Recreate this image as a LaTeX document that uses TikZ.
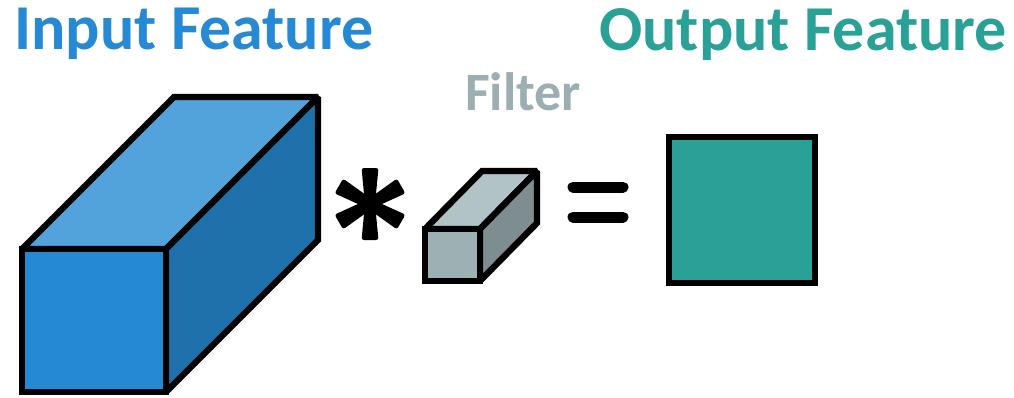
\documentclass[tikz,border=0pt]{standalone}
\usepackage{fontspec}
\setmainfont{Carlito}

\definecolor{inputblue}{HTML}{2589D4}
\definecolor{inputtop}{HTML}{52A3DB}
\definecolor{inputside}{HTML}{1F71AB}
\definecolor{filterfront}{HTML}{9DB0B3}
\definecolor{filtertop}{HTML}{B2C3C5}
\definecolor{filterside}{HTML}{7E8E90}
\definecolor{filtertext}{HTML}{9BAEB1}
\definecolor{outputteal}{HTML}{2AA197}

\begin{document}
\begin{tikzpicture}[x=1pt, y=-1pt,
    face/.style={draw=black, line width=6.3pt, line join=miter, miter limit=2},
    title/.style={anchor=base west, inner sep=0pt, font=\fontsize{64}{72}\selectfont\bfseries},
    bar/.style={line width=11pt, line cap=round}]
    \useasboundingbox (0,0) rectangle (1014,397);

    % titles
    \node[title, text=inputblue] (intitle) at (14,49) {Input Feature};
    \node[title, text=filtertext, font=\fontsize{54}{60}\selectfont\bfseries] (filtitle) at (465,110) {Filter};
    \node[title, text=outputteal] (outtitle) at (599,50) {Output Feature};

    % input feature
    \filldraw[face, fill=inputtop] (22,249) -- (174,97) -- (318,97) -- (166,249) -- cycle;
    \filldraw[face, fill=inputside] (166,249) -- (318,97) -- (318,240) -- (166,392) -- cycle;
    \filldraw[face, fill=inputblue] (22,249) rectangle (166,392);

    % operator
    \coordinate (conv) at (370,204);
    \begin{scope}[shift={(conv)}]
      \fill (0,0) circle (6);
      \foreach \a in {30,90,...,330}
        \fill[rotate=\a, rounded corners=2.5pt] (0,-5) -- (36,-8.5) -- (36,8.5) -- (0,5) -- cycle;
    \end{scope}

    % filter
    \filldraw[face, fill=filtertop] (425,229) -- (482,171) -- (537,171) -- (480,229) -- cycle;
    \filldraw[face, fill=filterside] (480,229) -- (537,171) -- (537,223) -- (480,281) -- cycle;
    \filldraw[face, fill=filterfront] (425,229) rectangle (480,281);

    % equals
    \draw[bar] (573,187) -- (623,187);
    \draw[bar] (573,217) -- (623,217);

    % output feature
    \filldraw[face, fill=outputteal] (669,137) rectangle (815,283);
\end{tikzpicture}
\end{document}
